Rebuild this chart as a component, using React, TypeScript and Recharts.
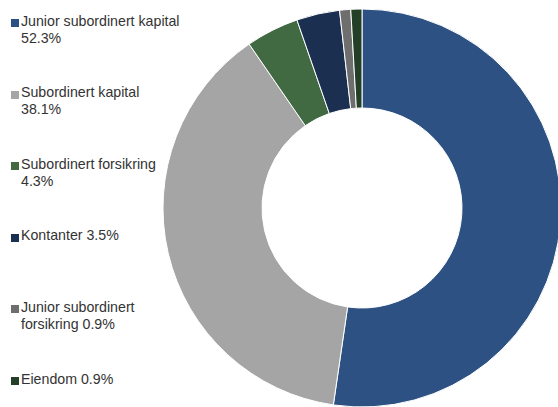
import React from 'react';
import { Pie, PieChart, Cell } from 'recharts';

const categories = [
  'Junior subordinert kapital',
  'Subordinert kapital',
  'Subordinert forsikring',
  'Kontanter',
  'Junior subordinert forsikring',
  'Eiendom',
];
const shares = [52.3, 38.1, 4.3, 3.5, 0.9, 0.9];
const colors = ['#2E5183', '#A5A5A5', '#416A43', '#1B2F50', '#6E6E6E', '#243F27'];

const data = categories.map((name, i) => ({ name, value: shares[i], color: colors[i] }));

const fontFamily = '"Liberation Sans", Arial, sans-serif';

function LegendList() {
  return (
    <div
      style={{
        position: 'absolute',
        left: 0,
        top: 0,
        paddingTop: 12.6,
        fontFamily,
        fontSize: 14.2,
        lineHeight: '17px',
        color: '#333',
      }}
    >
      {data.map((d) => (
        <div key={d.name} style={{ height: 71.6, position: 'relative', paddingLeft: 21 }}>
          <span
            style={{
              position: 'absolute',
              left: 11,
              top: 6.5,
              width: 8,
              height: 8,
              background: d.color,
            }}
          />
          <div style={{ width: 160 }}>{`${d.name} ${d.value.toFixed(1)}%`}</div>
        </div>
      ))}
    </div>
  );
}

export default function App() {
  return (
    <div style={{ position: 'absolute', left: 0, top: 0, width: 558, height: 407, background: '#fff' }}>
      <PieChart width={558} height={407} margin={{ top: 0, right: 0, bottom: 0, left: 0 }}>
        <Pie
          data={data}
          dataKey="value"
          nameKey="name"
          cx={362}
          cy={208}
          innerRadius={100}
          outerRadius={199}
          startAngle={90}
          endAngle={-270}
          stroke="#fff"
          strokeWidth={1}
          isAnimationActive={false}
        >
          {data.map((d) => (
            <Cell key={d.name} fill={d.color} />
          ))}
        </Pie>
      </PieChart>
      <LegendList />
    </div>
  );
}
